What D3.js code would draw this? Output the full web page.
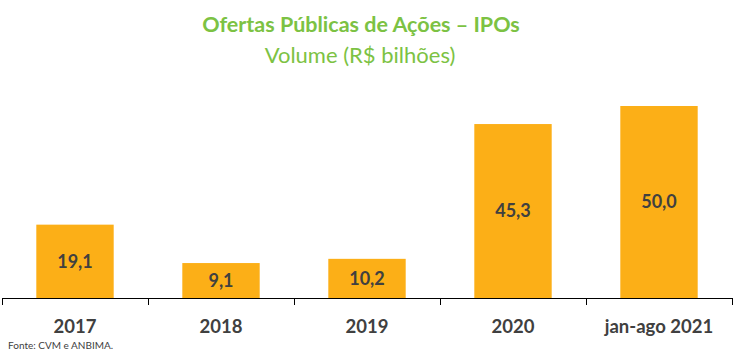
<!DOCTYPE html>
<html><head><meta charset="utf-8">
<script src="https://d3js.org/d3.v7.min.js"></script>
<style>body{margin:0;background:#fff;}svg{display:block;}</style>
</head><body>
<div id="chart"></div>
<script>
const categories = ["2017","2018","2019","2020","jan-ago 2021"];
const values = [19.1, 9.1, 10.2, 45.3, 50.0];
const valueLabels = ["19,1","9,1","10,2","45,3","50,0"];
const titleText = "Ofertas Públicas de Ações – IPOs";
const subtitleText = "Volume (R$ bilhões)";
const sourceText = "Fonte: CVM e ANBIMA.";

const W = 750, H = 355;
const svg = d3.select("#chart").append("svg").attr("width", W).attr("height", H);
const font = "Lato, 'Open Sans', sans-serif";

const x = d3.scaleBand().domain(categories).range([2, 732]).paddingInner(0.47).paddingOuter(0.235);
const y = d3.scaleLinear().domain([0, 50]).range([298, 106]);

svg.append("text").attr("x", 361).attr("y", 32).attr("text-anchor", "middle")
  .attr("font-family", font).attr("font-weight", "bold").attr("font-size", 21.5)
  .attr("fill", "#7CC243").text(titleText);
svg.append("text").attr("x", 360).attr("y", 63).attr("text-anchor", "middle")
  .attr("font-family", font).attr("font-size", 22)
  .attr("fill", "#7CC243").text(subtitleText);

svg.selectAll("rect.bar").data(values).join("rect").attr("class","bar")
  .attr("x", (d,i) => x(categories[i]))
  .attr("width", x.bandwidth())
  .attr("y", d => y(d))
  .attr("height", d => y(0) - y(d))
  .attr("fill", "#FCAF17");

svg.selectAll("text.val").data(values).join("text").attr("class","val")
  .attr("x", (d,i) => x(categories[i]) + x.bandwidth()/2)
  .attr("y", d => (y(d) + y(0))/2)
  .attr("dy", "0.35em")
  .attr("text-anchor", "middle")
  .attr("font-family", font).attr("font-weight", "bold").attr("font-size", 18)
  .attr("fill", "#404040")
  .text((d,i) => valueLabels[i]);

// axis
const axisG = svg.append("g");
axisG.append("line").attr("x1", 2).attr("x2", 732).attr("y1", 298.5).attr("y2", 298.5)
  .attr("stroke", "#000").attr("stroke-width", 1);
const step = x.step();
const tickXs = d3.range(categories.length + 1).map(i => 2 + i * step);
axisG.selectAll("line.tick").data(tickXs).join("line").attr("class","tick")
  .attr("x1", d => Math.round(d)+0.5).attr("x2", d => Math.round(d)+0.5)
  .attr("y1", 298).attr("y2", 305).attr("stroke", "#000");

svg.selectAll("text.cat").data(categories).join("text").attr("class","cat")
  .attr("x", d => x(d) + x.bandwidth()/2)
  .attr("y", 333)
  .attr("text-anchor", "middle")
  .attr("font-family", font).attr("font-weight", "bold").attr("font-size", 18.5)
  .attr("fill", "#404040").text(d => d);

svg.append("text").attr("x", 8).attr("y", 349)
  .attr("font-family", font).attr("font-size", 10)
  .attr("fill", "#404040").text(sourceText);
</script>
</body></html>
